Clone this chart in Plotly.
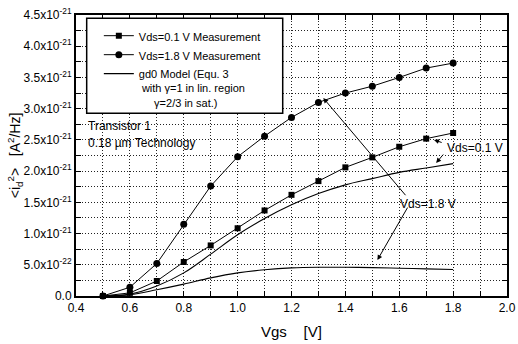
import plotly.graph_objects as go

# ---- data (y in units of 1e-21 A^2/Hz) ----
vgs = [0.5, 0.6, 0.7, 0.8, 0.9, 1.0, 1.1, 1.2, 1.3, 1.4, 1.5, 1.6, 1.7, 1.8]
meas_vds01 = [0.0, 0.05, 0.24, 0.545, 0.81, 1.085, 1.37, 1.62, 1.84, 2.06, 2.22, 2.39, 2.52, 2.61]
meas_vds18 = [0.0, 0.14, 0.52, 1.15, 1.76, 2.23, 2.56, 2.86, 3.10, 3.25, 3.36, 3.50, 3.65, 3.73]
model_vds01 = [0.0, 0.03, 0.16, 0.37, 0.67, 0.98, 1.24, 1.46, 1.64, 1.78, 1.88, 1.98, 2.05, 2.12]
model_vds18 = [0.0, 0.02, 0.10, 0.19, 0.29, 0.37, 0.42, 0.45, 0.46, 0.46, 0.455, 0.445, 0.435, 0.425]

ytick_vals = [0, 0.5, 1.0, 1.5, 2.0, 2.5, 3.0, 3.5, 4.0, 4.5]
ytick_text = ["0.0", "5.0x10<sup>-22</sup>", "1.0x10<sup>-21</sup>", "1.5x10<sup>-21</sup>",
              "2.0x10<sup>-21</sup>", "2.5x10<sup>-21</sup>", "3.0x10<sup>-21</sup>",
              "3.5x10<sup>-21</sup>", "4.0x10<sup>-21</sup>", "4.5x10<sup>-21</sup>"]

FONT = "Liberation Sans, Arial, sans-serif"

fig = go.Figure()
fig.add_trace(go.Scatter(x=vgs, y=meas_vds01, mode="lines+markers",
                         name="Vds=0.1 V Measurement",
                         line=dict(color="black", width=1),
                         marker=dict(symbol="square", size=6, color="black"),
                         cliponaxis=False))
fig.add_trace(go.Scatter(x=vgs, y=meas_vds18, mode="lines+markers",
                         name="Vds=1.8 V Measurement",
                         line=dict(color="black", width=1),
                         marker=dict(symbol="circle", size=7, color="black"),
                         cliponaxis=False))
fig.add_trace(go.Scatter(x=vgs, y=model_vds01, mode="lines",
                         name="gd0 Model (Equ. 3<br> with \u03b3=1 in lin. region<br>\u00a0\u00a0\u00a0\u00a0\u00a0\u03b3=2/3 in sat.)",
                         line=dict(color="black", width=1.1, shape="spline"),
                         legendgroup="model", cliponaxis=False))
fig.add_trace(go.Scatter(x=vgs, y=model_vds18, mode="lines", showlegend=False,
                         line=dict(color="black", width=1.1, shape="spline"),
                         legendgroup="model", cliponaxis=False))

axis_common = dict(
    showline=True, linewidth=2, linecolor="black", mirror="ticks",
    ticks="inside", ticklen=5, tickwidth=1, tickcolor="black",
    showgrid=True, gridcolor="#222", gridwidth=1, griddash="1px,2px",
    zeroline=False,
    tickfont=dict(family=FONT, size=12, color="black"),
)

fig.update_xaxes(range=[0.4, 2.0], dtick=0.2, tick0=0.4, tickformat=".1f",
                 minor=dict(dtick=0.1, ticks="inside", ticklen=5, tickcolor="black",
                            showgrid=True, gridcolor="#222", griddash="1px,2px"),
                 **axis_common)
fig.update_yaxes(range=[0, 4.5], tickvals=ytick_vals, ticktext=ytick_text,
                 minor=dict(dtick=0.25, ticks="inside", ticklen=5, tickcolor="black",
                            showgrid=True, gridcolor="#222", griddash="1px,2px"),
                 **axis_common)

# axis titles
fig.add_annotation(x=0.5, y=-0.125, xref="paper", yref="paper", yanchor="middle",
                   text="Vgs\u00a0\u00a0\u00a0\u00a0[V]", showarrow=False,
                   font=dict(family=FONT, size=15, color="black"))
fig.add_annotation(x=-0.142, y=0.5, xref="paper", yref="paper", xanchor="center", yanchor="middle",
                   textangle=-90,
                   text="&lt;i<sub>d</sub><sup>2</sup>&gt;\u00a0\u00a0\u00a0[A<sup>2</sup>/Hz]",
                   showarrow=False, font=dict(family=FONT, size=14, color="black"))

# legend frame
fig.add_shape(type="rect", xref="paper", yref="paper", x0=0.0248, x1=0.4796, y0=0.650, y1=0.988,
              line=dict(color="black", width=1.5), fillcolor="white", layer="above")

# annotations
arrows = [
    (1.729, 2.50, 1.763, 2.45),
    (1.737, 2.13, 1.768, 2.29),
    (1.318, 3.17, 1.628, 1.59),
    (1.519, 0.577, 1.634, 1.44),
]
for hx, hy, tx, ty in arrows:
    fig.add_annotation(x=hx, y=hy, ax=tx, ay=ty, xref="x", yref="y", axref="x", ayref="y",
                       text="", showarrow=True, arrowhead=2, arrowsize=1, arrowwidth=1,
                       arrowcolor="black", standoff=0, startstandoff=0)

fig.add_annotation(x=1.882, y=2.377, xref="x", yref="y", text="Vds=0.1 V", showarrow=False,
                   font=dict(family=FONT, size=12, color="black"))
fig.add_annotation(x=1.708, y=1.47, xref="x", yref="y", text="Vds=1.8 V", showarrow=False,
                   font=dict(family=FONT, size=12, color="black"))
fig.add_annotation(x=0.023, y=2.72, xref="paper", yref="y", xanchor="left", text="Transistor 1",
                   showarrow=False, font=dict(family=FONT, size=12, color="black"))
fig.add_annotation(x=0.023, y=2.45, xref="paper", yref="y", xanchor="left", text="0.18 \u00b5m Technology",
                   showarrow=False, font=dict(family=FONT, size=12, color="black"))

fig.update_layout(
    width=518, height=344,
    margin=dict(l=76, r=11, t=15, b=48, autoexpand=False),
    paper_bgcolor="white", plot_bgcolor="white",
    font=dict(family=FONT, size=12, color="black"),
    showlegend=True,
    legend=dict(x=0.053, y=0.975, xanchor="left", yanchor="top",
                bgcolor="rgba(0,0,0,0)", borderwidth=0,
                font=dict(family=FONT, size=11, color="black"),
                valign="top", tracegroupgap=0),
)

fig.write_html("out.html")
